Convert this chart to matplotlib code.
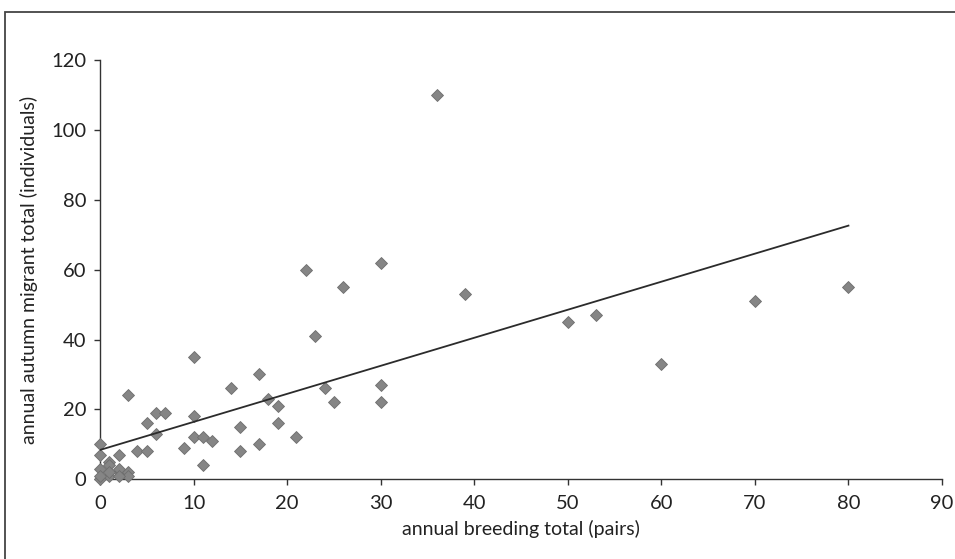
import matplotlib
matplotlib.use("Agg")
import matplotlib.pyplot as plt
from matplotlib.patches import Rectangle

# Data
breeding_pairs = [36, 30, 22, 26, 39, 50, 53, 70, 80, 60,
                  23, 24, 30, 25, 30, 19, 19, 21,
                  10, 17, 3, 14, 18, 6, 7, 10, 5, 15, 6, 10, 11, 12,
                  9, 17, 15, 4, 5, 11,
                  0, 0, 2, 1, 0, 1, 0, 2, 3, 1, 0, 3, 2, 1, 2]
migrant_totals = [110, 62, 60, 55, 53, 45, 47, 51, 55, 33,
                  41, 26, 27, 22, 22, 21, 16, 12,
                  35, 30, 24, 26, 23, 19, 19, 18, 16, 15, 13, 12, 12, 11,
                  9, 10, 8, 8, 8, 4,
                  10, 7, 7, 5, 3, 4, 0, 2, 2, 1, 1, 1, 3, 2, 1]
trend_x = [0, 80]
trend_y = [8.4, 72.6]
x_ticks = [0, 10, 20, 30, 40, 50, 60, 70, 80, 90]
y_ticks = [0, 20, 40, 60, 80, 100, 120]
x_label = "annual breeding total (pairs)"
y_label = "annual autumn migrant total (individuals)"

plt.rcParams['font.family'] = ['Lato', 'DejaVu Sans']

fig = plt.figure(figsize=(9.55, 5.59), dpi=100)
ax = fig.add_axes([100/955, 1 - 479.3/559, 842/955, (479.3 - 60)/559])

ax.plot(breeding_pairs, migrant_totals, linestyle='none', marker='D',
        markersize=6.0, markerfacecolor='#858585', markeredgecolor='#6e6e6e',
        markeredgewidth=0.6, zorder=3, clip_on=False)
ax.plot(trend_x, trend_y, color='#2b2b2b', linewidth=1.3, zorder=4)

ax.set_xlim(0, 90)
ax.set_ylim(0, 120)
ax.set_xticks(x_ticks)
ax.set_yticks(y_ticks)
for s in ['top', 'right']:
    ax.spines[s].set_visible(False)
for s in ['left', 'bottom']:
    ax.spines[s].set_color('#333333')
    ax.spines[s].set_linewidth(1.0)
ax.tick_params(axis='both', direction='out', length=4, width=1.0,
               colors='#333333', labelcolor='#222222', labelsize=14.5)
ax.tick_params(axis='x', pad=7)
ax.tick_params(axis='y', pad=6)
ax.set_xlabel(x_label, fontsize=14, color='#222222', labelpad=6)
ax.set_ylabel(y_label, fontsize=14, color='#222222', labelpad=9)

# chart-area border
fig.patches.append(Rectangle((5/955, -0.05), 1.2, 1 - 12/559 + 0.05,
                             transform=fig.transFigure, fill=False,
                             edgecolor='#444444', linewidth=1.3))

fig.savefig("out.png", dpi=100)
